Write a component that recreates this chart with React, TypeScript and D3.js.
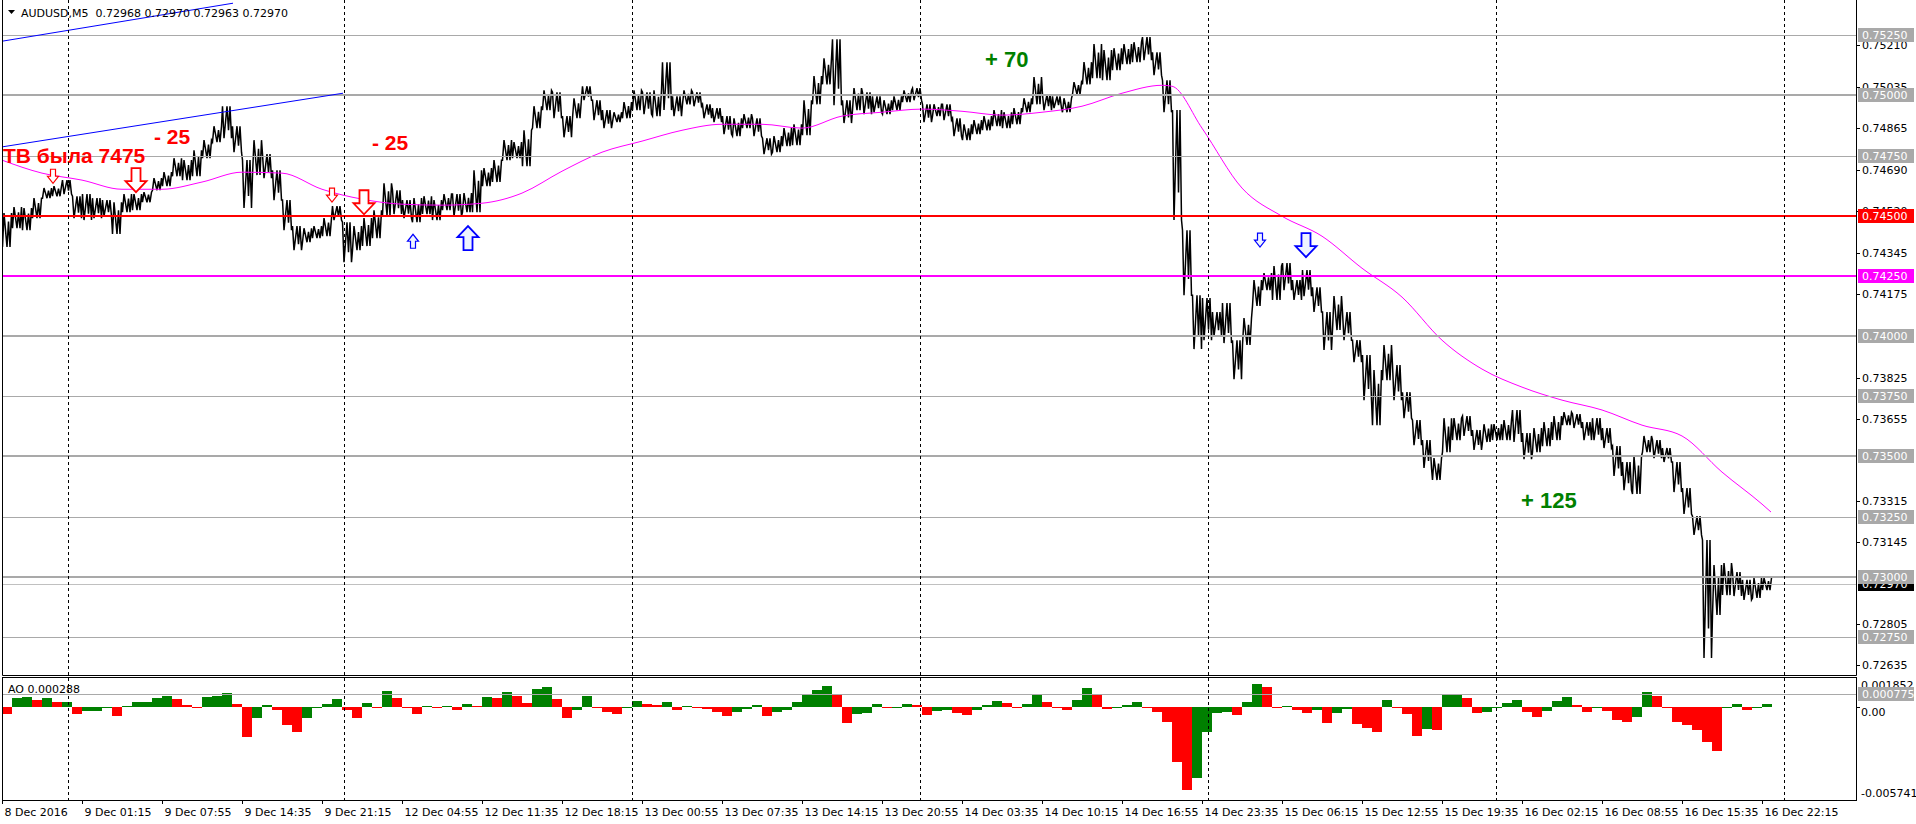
import { useEffect, useRef } from 'react'
import * as d3 from 'd3'

// bars are grouped 10 per bin (M5, 1 px per bar)
const BIN = 10

// highs / lows of each 10-bar bin
const priceHigh = [
  0.74511, 0.74536, 0.74532, 0.74573, 0.74615, 0.74623, 0.74648, 0.74581, 0.7459, 0.74573,
  0.74565, 0.74556, 0.7459, 0.7459, 0.74598, 0.74656, 0.74681, 0.74739, 0.74731, 0.74772,
  0.74814, 0.74872, 0.74955, 0.74872, 0.74731, 0.74814, 0.74756, 0.74689, 0.74565, 0.74457,
  0.74448, 0.74457, 0.7449, 0.7454, 0.74473, 0.74457, 0.7449, 0.74523, 0.74635, 0.74606,
  0.74565, 0.74573, 0.74581, 0.74565, 0.7459, 0.7459, 0.74594, 0.74689, 0.74698, 0.74731,
  0.74814, 0.74806, 0.74855, 0.74955, 0.75021, 0.75013, 0.74914, 0.74988, 0.75038, 0.7498,
  0.74939, 0.7493, 0.74972, 0.75021, 0.75013, 0.75021, 0.75138, 0.74996, 0.75021, 0.75013,
  0.74963, 0.74947, 0.74914, 0.74905, 0.74922, 0.74905, 0.74822, 0.74831, 0.74864, 0.7488,
  0.7498, 0.7508, 0.75154, 0.75233, 0.7498, 0.7503, 0.75013, 0.74996, 0.7498, 0.74996,
  0.75021, 0.7503, 0.74963, 0.74963, 0.74963, 0.74905, 0.7488, 0.74897, 0.74914, 0.74939,
  0.7493, 0.74947, 0.74988, 0.75076, 0.75004, 0.74996, 0.74988, 0.75055, 0.75138, 0.75213,
  0.75188, 0.75196, 0.75213, 0.75221, 0.75242, 0.75179, 0.75063, 0.74939, 0.7444, 0.7417,
  0.74158, 0.741, 0.74137, 0.73983, 0.74075, 0.74233, 0.74262, 0.74291, 0.74303, 0.74233,
  0.74274, 0.74203, 0.741, 0.74166, 0.741, 0.73983, 0.73921, 0.73859, 0.73963, 0.7388,
  0.73767, 0.73651, 0.73568, 0.73493, 0.73659, 0.73659, 0.73668, 0.7361, 0.73634, 0.73634,
  0.73651, 0.73693, 0.73597, 0.73618, 0.73643, 0.73668, 0.73684, 0.73676, 0.73643, 0.73659,
  0.73618, 0.73543, 0.73477, 0.73502, 0.73585, 0.73568, 0.73535, 0.73477, 0.73369, 0.73252,
  0.73153, 0.73049, 0.73057, 0.7302, 0.72987, 0.72995, 0.72995,
]
const priceLow = [
  0.7437, 0.74448, 0.7444, 0.7449, 0.74573, 0.74581, 0.7459, 0.7449, 0.74482, 0.7449,
  0.74498, 0.74424, 0.74515, 0.74523, 0.74556, 0.74606, 0.74623, 0.74664, 0.74648, 0.74664,
  0.74739, 0.74806, 0.74822, 0.74764, 0.74532, 0.74669, 0.74656, 0.74565, 0.7444, 0.74357,
  0.7439, 0.74407, 0.74415, 0.74482, 0.74307, 0.74357, 0.74374, 0.74407, 0.74502, 0.74507,
  0.7449, 0.74473, 0.74507, 0.74482, 0.74523, 0.74498, 0.74515, 0.74515, 0.74623, 0.7464,
  0.74731, 0.74739, 0.74706, 0.74864, 0.74939, 0.74905, 0.74826, 0.74905, 0.7498, 0.74897,
  0.74864, 0.74889, 0.74905, 0.74939, 0.74922, 0.74914, 0.74939, 0.74914, 0.74963, 0.74955,
  0.74905, 0.74889, 0.74839, 0.74831, 0.74864, 0.74831, 0.74756, 0.74764, 0.74789, 0.74793,
  0.74835, 0.74963, 0.75046, 0.74959, 0.74885, 0.74939, 0.74922, 0.7493, 0.74922, 0.74939,
  0.74972, 0.7498, 0.74889, 0.74914, 0.74897, 0.74831, 0.74814, 0.74839, 0.74855, 0.74872,
  0.74864, 0.7488, 0.7493, 0.74963, 0.74939, 0.74947, 0.7493, 0.75004, 0.75046, 0.75071,
  0.75063, 0.75105, 0.7513, 0.75138, 0.75146, 0.75084, 0.7493, 0.74482, 0.7417, 0.73946,
  0.73983, 0.74, 0.73971, 0.73821, 0.73963, 0.74125, 0.74191, 0.7415, 0.74191, 0.7415,
  0.74166, 0.741, 0.73942, 0.74025, 0.73983, 0.73892, 0.73734, 0.7363, 0.73817, 0.73734,
  0.73659, 0.73547, 0.73452, 0.73402, 0.73518, 0.73568, 0.73585, 0.73527, 0.7356, 0.73568,
  0.73568, 0.7356, 0.73489, 0.73518, 0.73543, 0.73568, 0.7363, 0.73618, 0.73568, 0.73568,
  0.73535, 0.73419, 0.7336, 0.73344, 0.73518, 0.73493, 0.73477, 0.73352, 0.73261, 0.73174,
  0.72663, 0.72841, 0.72924, 0.7292, 0.72904, 0.72912, 0.72945,
]

// moving average (magenta), bar index -> value
const maBars = [
  0, 40, 80, 120, 160, 200, 240, 280, 320, 360, 400, 440, 480, 520, 560, 600, 640, 680, 720, 760,
  800, 840, 880, 920, 960, 1000, 1040, 1080, 1120, 1160, 1170, 1200, 1240, 1280, 1320, 1360, 1400,
  1440, 1480, 1520, 1560, 1600, 1640, 1680, 1720, 1760, 1769,
]
const maValues = [
  0.74731, 0.74677, 0.74648, 0.7461, 0.7461, 0.7464, 0.74681, 0.74677, 0.7461, 0.74569, 0.74548,
  0.74544, 0.74552, 0.74594, 0.74685, 0.74764, 0.7481, 0.74855, 0.7488, 0.7488, 0.74864, 0.74914,
  0.7493, 0.74943, 0.74934, 0.74918, 0.7493, 0.74955, 0.75009, 0.75042, 0.75038, 0.74864, 0.74615,
  0.74498, 0.74415, 0.74282, 0.74162, 0.73983, 0.73863, 0.73788, 0.73734, 0.73693, 0.7363, 0.73585,
  0.73435, 0.73302, 0.73269,
]

// Awesome Oscillator per bin
const aoValues = [
  -0.00045, 0.00058, 0.00062, 0.00041, 0.00058, 0.00029, 0.00033, -0.00045, -0.00025, -0.00025,
  -0.00008, -0.00054, 0.00008, 0.00033, 0.00033, 0.00058, 0.00066, 0.00049, 0.00012, -0.00008,
  0.00062, 0.00066, 0.00084, 0.0002, -0.00183, -0.0007, 0.00012, -0.00019, -0.00111, -0.00152,
  -0.0007, 0.0, 0.00016, 0.00049, -0.00019, -0.00066, 0.00025, -0.00002, 0.00099, 0.00054,
  0.0, -0.00041, 0.00004, -0.00002, 0.00008, -0.00016, 0.00016, 0.00008, 0.00062, 0.00058,
  0.00091, 0.0007, 0.00023, 0.00111, 0.00123, 0.00049, -0.0007, -0.00019, 0.00066, 0.0,
  -0.00029, -0.00045, -0.00002, 0.00037, 0.00021, 0.00012, 0.00033, -0.00021, 0.00006, 0.0,
  -0.00012, -0.00033, -0.00058, -0.00033, -0.0001, 0.00012, -0.00054, -0.00029, -0.00016, 0.00029,
  0.00078, 0.00103, 0.00132, 0.00078, -0.00101, -0.00045, -0.00039, 0.00021, -0.00008, -0.00002,
  0.00021, 0.00012, -0.00049, -0.00023, -0.00021, -0.00035, -0.00051, -0.00016, 0.00012, 0.00037,
  0.00023, 0.0, 0.00021, 0.00074, 0.00029, -0.00002, -0.00021, 0.00045, 0.00119, 0.00078,
  -0.00012, -0.00004, 0.0001, 0.00029, -0.00008, -0.00029, -0.00091, -0.00338, -0.00512, -0.0044,
  -0.00152, -0.00039, -0.00029, -0.00049, 0.00033, 0.0014, 0.00126, 0.0, 0.00008, -0.00016,
  -0.00039, -0.00019, -0.00101, -0.00039, -0.00014, -0.00107, -0.00132, -0.00152, 0.00041, -0.00008,
  -0.00045, -0.00177, -0.00136, -0.00142, 0.00074, 0.00074, 0.00058, -0.00039, -0.00029, -0.00004,
  0.00025, 0.00041, -0.00029, -0.00062, -0.00025, 0.00035, 0.00062, 0.00012, -0.00033, -0.00008,
  -0.00027, -0.0008, -0.00091, -0.0006, 0.00095, 0.0007, 0.0, -0.00091, -0.00111, -0.00142,
  -0.00214, -0.00272, -0.00004, 0.00019, -0.00021, 0.0, 0.00016,
]

const grayLevels = [0.7525, 0.75, 0.7475, 0.74, 0.7375, 0.735, 0.7325, 0.73, 0.7275]
const redLevel = 0.745
const magentaLevel = 0.7425
const bidPrice = 0.7297
const aoLevel = 0.000775

// price scale labels that are not hidden under the level boxes
const priceTicks = [
  0.7521, 0.75035, 0.74865, 0.7469, 0.7452, 0.74345, 0.74175, 0.73825, 0.73655,
  0.73315, 0.73145, 0.72805, 0.72635,
]
const timeLabels = [
  '8 Dec 2016', '9 Dec 01:15', '9 Dec 07:55', '9 Dec 14:35', '9 Dec 21:15', '12 Dec 04:55',
  '12 Dec 11:35', '12 Dec 18:15', '13 Dec 00:55', '13 Dec 07:35', '13 Dec 14:15', '13 Dec 20:55',
  '14 Dec 03:35', '14 Dec 10:15', '14 Dec 16:55', '14 Dec 23:35', '15 Dec 06:15', '15 Dec 12:55',
  '15 Dec 19:35', '16 Dec 02:15', '16 Dec 08:55', '16 Dec 15:35', '16 Dec 22:15',
]
const daySeparators = [66, 342, 630, 918, 1206, 1494, 1782]

// trend lines: [bar0, price0, bar1, price1]
const trendLines = [
  [0, 0.75225, 231, 0.75383],
  [0, 0.74786, 341, 0.75009],
]

// arrow objects
const arrowBars = [51, 134, 330, 362, 411, 466, 1258, 1304]
const arrowPrices = [0.74664, 0.74648, 0.74586, 0.74556, 0.74394, 0.74407, 0.74399, 0.74378]
const arrowDirs = ['down', 'down', 'down', 'down', 'up', 'up', 'down', 'down']
const arrowKinds = ['small', 'big', 'small', 'big', 'small', 'big', 'small', 'big']
const arrowColors = ['#ff0000', '#ff0000', '#ff0000', '#ff0000', '#0000ff', '#0000ff', '#0000ff', '#0000ff']

// text objects
const noteTexts = ['ТВ была 7475', '- 25', '- 25', '+ 70', '+ 125']
const noteBars = [1, 152, 370, 983, 1519]
const notePrices = [0.74718, 0.74797, 0.74772, 0.75117, 0.73286]

export default function App() {
  const svgRef = useRef<SVGSVGElement>(null)

  useEffect(() => {
    const svg = d3.select(svgRef.current)
    svg.selectAll('*').remove()

    const axisFont = 'DejaVu Sans, Verdana, sans-serif'
    const x = d3.scaleLinear().domain([0, 1854]).range([2, 1856])
    const y = d3.scaleLinear().domain([0.72592, 0.75388]).range([675, 2])
    const yAo = d3.scaleLinear().domain([-0.005741, 0.001852]).range([800, 677])
    const px = (v: number) => Math.round(v) + 0.5

    svg.append('rect').attr('width', 1916).attr('height', 824).attr('fill', '#fff')

    const defs = svg.append('defs')
    defs.append('clipPath').attr('id', 'mainClip')
      .append('rect').attr('x', 3).attr('y', 0).attr('width', 1853).attr('height', 675)
    defs.append('clipPath').attr('id', 'aoClip')
      .append('rect').attr('x', 3).attr('y', 678).attr('width', 1853).attr('height', 122)

    const main = svg.append('g').attr('clip-path', 'url(#mainClip)')

    // price bars, drawn as a dense zigzag through the bin highs and lows
    const n = priceHigh.length
    const mid = (i: number) => (priceHigh[i] + priceLow[i]) / 2
    const pts: [number, number][] = []
    priceHigh.forEach((h, i) => {
      const x0 = x(i * BIN)
      const hy = y(h)
      const ly = y(priceLow[i])
      const prev = i > 0 ? mid(i - 1) : mid(i)
      const next = i < n - 1 ? mid(i + 1) : mid(i)
      const falling = next < prev
      const a = falling ? hy : ly
      const b = falling ? ly : hy
      const q = (a + b) / 2
      pts.push(
        [x0 + 0.5, a], [x0 + 2, b], [x0 + 3.5, q], [x0 + 5, a],
        [x0 + 6.5, (q + b) / 2], [x0 + 8, a], [x0 + 9.5, b],
      )
    })
    main.append('path')
      .attr('d', d3.line()(pts))
      .attr('fill', 'none')
      .attr('stroke', '#000')
      .attr('stroke-width', 1.5)
      .attr('stroke-linejoin', 'miter')

    // moving average
    main.append('path')
      .attr('d', d3.line<number>()
        .x((_, i) => x(maBars[i]))
        .y(d => y(d))
        .curve(d3.curveMonotoneX)(maValues))
      .attr('fill', 'none')
      .attr('stroke', '#ff00ff')
      .attr('stroke-width', 1)

    // bid line
    main.append('line')
      .attr('x1', 2).attr('x2', 1856)
      .attr('y1', px(y(bidPrice))).attr('y2', px(y(bidPrice)))
      .attr('stroke', '#c0c0c0')

    // horizontal level objects
    grayLevels.forEach(p => {
      const thick = Math.round(p * 10000) % 50 === 0
      main.append('line')
        .attr('x1', 2).attr('x2', 1856)
        .attr('y1', thick ? Math.round(y(p)) : px(y(p)))
        .attr('y2', thick ? Math.round(y(p)) : px(y(p)))
        .attr('stroke', '#a9a9a9')
        .attr('stroke-width', thick ? 2 : 1)
    })
    main.append('line')
      .attr('x1', 2).attr('x2', 1856)
      .attr('y1', Math.round(y(redLevel))).attr('y2', Math.round(y(redLevel)))
      .attr('stroke', '#ff0000').attr('stroke-width', 2)
    main.append('line')
      .attr('x1', 2).attr('x2', 1856)
      .attr('y1', Math.round(y(magentaLevel))).attr('y2', Math.round(y(magentaLevel)))
      .attr('stroke', '#ff00ff').attr('stroke-width', 2)

    // trend lines
    trendLines.forEach(([b0, p0, b1, p1]) => {
      main.append('line')
        .attr('x1', x(b0)).attr('y1', y(p0))
        .attr('x2', x(b1)).attr('y2', y(p1))
        .attr('stroke', '#0000ff').attr('stroke-width', 1)
    })

    // arrows
    arrowBars.forEach((b, i) => {
      const big = arrowKinds[i] === 'big'
      const w = big ? 21 : 11
      const h = big ? 24 : 14
      const s = big ? 9 : 5
      const sh = big ? 13 : 7
      const cx = x(b)
      const top = y(arrowPrices[i]) - h / 2
      let poly: [number, number][] = [
        [cx - s / 2, top], [cx + s / 2, top], [cx + s / 2, top + sh], [cx + w / 2, top + sh],
        [cx, top + h], [cx - w / 2, top + sh], [cx - s / 2, top + sh],
      ]
      if (arrowDirs[i] === 'up') poly = poly.map(([px0, py0]) => [px0, 2 * top + h - py0])
      main.append('path')
        .attr('d', 'M' + poly.map(p => p.join(',')).join('L') + 'Z')
        .attr('fill', arrowColors[i] === '#0000ff' ? '#eef4ff' : '#fff')
        .attr('stroke', arrowColors[i])
        .attr('stroke-width', big ? 1.8 : 1.2)
    })

    // text objects
    noteTexts.forEach((t, i) => {
      const green = t.startsWith('+')
      main.append('text')
        .attr('x', x(noteBars[i]))
        .attr('y', y(notePrices[i]))
        .attr('fill', green ? '#008000' : '#ff0000')
        .attr('font-family', 'Liberation Sans, Arial, sans-serif')
        .attr('font-weight', 'bold')
        .attr('font-size', green ? 22 : 21)
        .style('white-space', 'pre')
        .text(t)
    })

    // Awesome Oscillator
    const ao = svg.append('g').attr('clip-path', 'url(#aoClip)')
    const bw = x(BIN) - x(0)
    aoValues.forEach((v, i) => {
      const up = i === 0 ? v >= 0 : v >= aoValues[i - 1]
      const y0 = yAo(Math.max(v, 0))
      const y1 = yAo(Math.min(v, 0))
      ao.append('rect')
        .attr('x', x(i * BIN)).attr('width', bw)
        .attr('y', y0).attr('height', Math.max(y1 - y0, 0.8))
        .attr('fill', up ? '#008000' : '#ff0000')
        .attr('shape-rendering', 'crispEdges')
    })
    ao.append('line')
      .attr('x1', 2).attr('x2', 1856)
      .attr('y1', px(yAo(aoLevel))).attr('y2', px(yAo(aoLevel)))
      .attr('stroke', '#a9a9a9')

    // day separators
    daySeparators.forEach(b => {
      const xx = px(x(b))
      ;[[0, 675], [678, 800]].forEach(([a, c]) => {
        svg.append('line')
          .attr('x1', xx).attr('x2', xx).attr('y1', a).attr('y2', c)
          .attr('stroke', '#000').attr('stroke-dasharray', '3,3')
      })
    })

    // frames
    const frame = svg.append('g').attr('stroke', '#000').attr('fill', 'none')
    frame.append('path').attr('d', 'M2.5,0V675.5H1856.5V0')
    frame.append('rect').attr('x', 2.5).attr('y', 677.5).attr('width', 1854).attr('height', 123)

    // price axis
    const axis = svg.append('g').attr('font-family', axisFont).attr('font-size', 11)
    priceTicks.forEach(p => {
      axis.append('line')
        .attr('x1', 1856).attr('x2', 1860)
        .attr('y1', px(y(p))).attr('y2', px(y(p)))
        .attr('stroke', '#000')
      axis.append('text')
        .attr('x', 1862).attr('y', y(p)).attr('dy', '0.36em')
        .attr('fill', '#000')
        .text(p.toFixed(5))
    })

    const box = (yy: number, label: string, fill: string) => {
      axis.append('rect')
        .attr('x', 1858).attr('y', Math.round(yy) - 7).attr('width', 56).attr('height', 14)
        .attr('fill', fill)
      axis.append('text')
        .attr('x', 1862).attr('y', Math.round(yy)).attr('dy', '0.36em')
        .attr('fill', '#fff')
        .text(label)
    }
    box(y(bidPrice), bidPrice.toFixed(5), '#000')
    grayLevels.forEach(p => box(y(p), p.toFixed(5), '#a9a9a9'))
    box(y(redLevel), redLevel.toFixed(5), '#ff0000')
    box(y(magentaLevel), magentaLevel.toFixed(5), '#ff00ff')

    // oscillator axis
    axis.append('text').attr('x', 1861).attr('y', 689).text('0.001852')
    axis.append('line').attr('x1', 1856).attr('x2', 1860)
      .attr('y1', px(yAo(0))).attr('y2', px(yAo(0))).attr('stroke', '#000')
    axis.append('text').attr('x', 1861).attr('y', yAo(0) + 1).attr('dy', '0.75em').text('0.00')
    axis.append('text').attr('x', 1861).attr('y', 797).text('-0.005741')
    box(yAo(aoLevel), '0.000775', '#a9a9a9')

    // time axis
    timeLabels.forEach((t, i) => {
      const xx = px(x(i * 80))
      axis.append('line')
        .attr('x1', xx).attr('x2', xx).attr('y1', 800).attr('y2', 804)
        .attr('stroke', '#000')
      axis.append('text')
        .attr('x', xx + 2).attr('y', 816)
        .attr('fill', '#000')
        .text(t)
    })

    // header
    axis.append('path').attr('d', 'M8,10H15L11.5,14Z').attr('fill', '#000')
    axis.append('text')
      .attr('x', 21).attr('y', 17)
      .style('white-space', 'pre')
      .text('AUDUSD,M5  0.72968 0.72970 0.72963 0.72970')
    axis.append('text')
      .attr('x', 8).attr('y', 693)
      .text('AO 0.000288')
  }, [])

  return (
    <svg
      ref={svgRef}
      width={1916}
      height={824}
      style={{ position: 'absolute', left: 0, top: 0, display: 'block' }}
    />
  )
}
